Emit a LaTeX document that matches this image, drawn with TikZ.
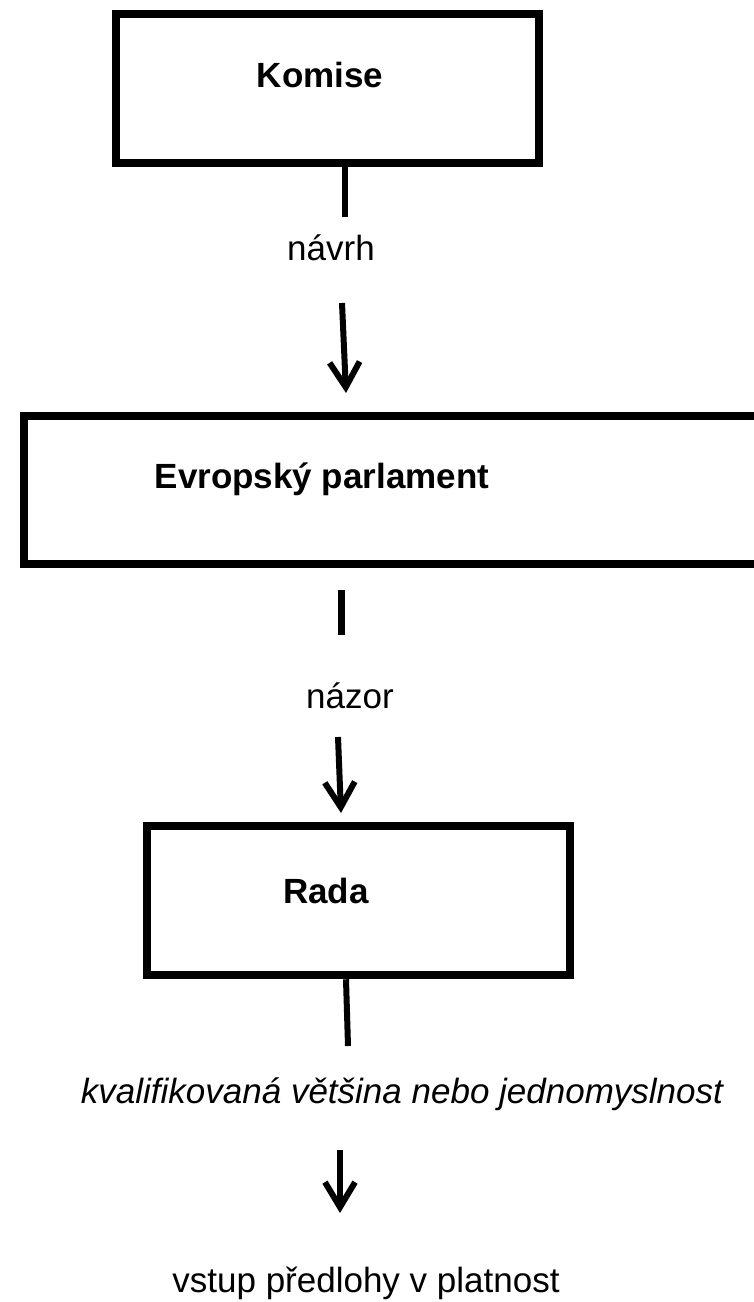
\documentclass[tikz,border=0pt]{standalone}
\usepackage{fontspec}
\setmainfont{Liberation Sans}
\usetikzlibrary{arrows.meta}
\begin{document}
\begin{tikzpicture}[x=1pt,y=1pt,
  boxnode/.style={draw=black,line width=8.5pt,minimum height=149pt,inner sep=0pt,fill=white},
  lbl/.style={anchor=base,inner sep=0pt,font=\fontsize{35}{42}\selectfont},
  conn/.style={line width=6pt,black},
  arr/.style={line width=6pt,black,-{Straight Barb[length=25pt,width=30pt]}}]
\clip (0,0) rectangle (754,-1302);
\fill[white] (0,0) rectangle (754,-1302);
% boxes
\node[boxnode,minimum width=423pt] (kom) at (327.5,-88.5) {};
\node[boxnode,minimum width=776pt,minimum height=148pt] (ep) at (412,-490) {};
\node[boxnode,minimum width=423pt] (rada) at (358.5,-900.5) {};
% labels
\node[lbl,font=\fontsize{35}{42}\selectfont\bfseries] (tkom) at (320,-87) {Komise};
\node[lbl,font=\fontsize{35}{42}\selectfont\bfseries] (tep) at (322,-488) {Evropský parlament};
\node[lbl,font=\fontsize{35}{42}\selectfont\bfseries] (trada) at (326,-903) {Rada};
\node[lbl] (navrh) at (331,-260) {návrh};
\node[lbl] (nazor) at (350,-708) {názor};
\node[lbl,font=\fontsize{35}{42}\selectfont\itshape] (kval) at (402,-1103) {kvalifikovaná většina nebo jednomyslnost};
\node[lbl] (vstup) at (366,-1292) {vstup předlohy v platnost};
% connector points
\coordinate (c1a) at (345,-217);
\coordinate (c1b) at (342,-303);
\coordinate (c1c) at (346,-393);
\coordinate (c2a) at (341,-635);
\coordinate (c2b) at (338,-737);
\coordinate (c2c) at (341,-813);
\coordinate (c3a) at (348,-1046);
\coordinate (c3b) at (340,-1150);
\coordinate (c3c) at (340,-1213);
% connectors
\draw[conn] (kom.south -| c1a) -- (c1a);
\draw[arr] (c1b) -- (c1c);
\draw[conn,line width=7pt] (341,-590) coordinate (c2s) -- (c2a);
\draw[arr] (c2b) -- (c2c);
\draw[conn] (rada.south -| 346,0) -- (c3a);
\draw[arr] (c3b) -- (c3c);
\end{tikzpicture}
\end{document}
